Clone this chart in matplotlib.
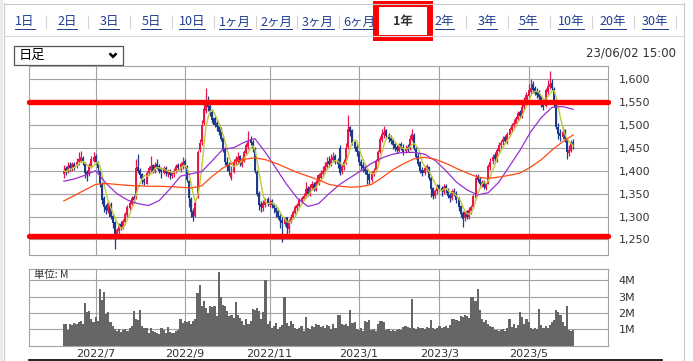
import matplotlib.pyplot as plt
import numpy as np
import pandas as pd
from matplotlib.patches import Rectangle

# タブ
tabs = ['1日', '2日', '3日', '5日', '10日', '1ヶ月', '2ヶ月', '3ヶ月', '6ヶ月',
        '1年', '2年', '3年', '5年', '10年', '20年', '30年']
active_tab = '1年'
period_label = '日足'
stamp = '23/06/02 15:00'
unit_label = '単位: M'

# 営業日 (東証の休日)
start_day, end_day = '2022-06-10', '2023-06-02'
jp_holidays = ['2022-07-18', '2022-08-11', '2022-09-19', '2022-09-23', '2022-10-10',
               '2022-11-03', '2022-11-23', '2023-01-02', '2023-01-03', '2023-01-09',
               '2023-02-23', '2023-03-21', '2023-05-03', '2023-05-04', '2023-05-05']

# 四本値 (円)
opens = [1392, 1405, 1398, 1412, 1404, 1415, 1410, 1418, 1422, 1428,
         1415, 1398, 1392, 1410, 1422, 1432, 1418, 1400, 1372, 1340,
         1322, 1312, 1328, 1302, 1288, 1262, 1268, 1284, 1276, 1288,
         1304, 1318, 1328, 1342, 1340, 1408, 1402, 1392, 1380, 1372,
         1395, 1402, 1412, 1398, 1414, 1410, 1404, 1396, 1406, 1392,
         1400, 1388, 1392, 1398, 1412, 1402, 1408, 1422, 1410, 1378,
         1338, 1312, 1302, 1342, 1445, 1462, 1505, 1530, 1550, 1542,
         1528, 1515, 1505, 1498, 1490, 1472, 1448, 1418, 1412, 1385,
         1398, 1418, 1422, 1432, 1412, 1422, 1438, 1452, 1470, 1462,
         1448, 1398, 1352, 1328, 1318, 1326, 1338, 1326, 1334, 1326,
         1318, 1312, 1302, 1292, 1284, 1298, 1272, 1288, 1298, 1308,
         1318, 1324, 1334, 1338, 1344, 1362, 1348, 1362, 1372, 1358,
         1372, 1385, 1392, 1398, 1408, 1422, 1414, 1424, 1432, 1422,
         1450, 1398, 1408, 1420, 1452, 1495, 1488, 1462, 1452, 1442,
         1418, 1412, 1408, 1402, 1392, 1380, 1392, 1402, 1422, 1440,
         1468, 1478, 1488, 1478, 1472, 1468, 1458, 1452, 1444, 1458,
         1452, 1442, 1452, 1448, 1468, 1478, 1448, 1432, 1418, 1402,
         1396, 1402, 1408, 1384, 1362, 1345, 1356, 1368, 1362, 1354,
         1366, 1358, 1348, 1340, 1356, 1352, 1338, 1322, 1308, 1296,
         1312, 1298, 1312, 1320, 1340, 1388, 1382, 1368, 1376, 1362,
         1372, 1408, 1422, 1434, 1424, 1444, 1456, 1462, 1474, 1462,
         1478, 1488, 1498, 1502, 1512, 1528, 1518, 1538, 1552, 1562,
         1572, 1590, 1580, 1574, 1570, 1562, 1550, 1542, 1572, 1582,
         1592, 1578, 1545, 1495, 1482, 1474, 1488, 1468, 1438, 1444, 1462]
highs = [1412, 1410, 1418, 1418, 1420, 1420, 1428, 1440, 1442, 1432,
         1418, 1402, 1416, 1432, 1440, 1436, 1422, 1402, 1375, 1345,
         1328, 1336, 1332, 1305, 1290, 1275, 1286, 1290, 1295, 1310,
         1325, 1335, 1345, 1348, 1425, 1436, 1405, 1396, 1384, 1400,
         1410, 1433, 1415, 1418, 1425, 1414, 1408, 1410, 1410, 1404,
         1404, 1398, 1405, 1415, 1416, 1420, 1430, 1426, 1412, 1380,
         1342, 1318, 1336, 1445, 1470, 1510, 1548, 1581, 1562, 1548,
         1535, 1520, 1510, 1502, 1495, 1478, 1452, 1430, 1418, 1410,
         1425, 1432, 1440, 1435, 1430, 1445, 1460, 1486, 1476, 1466,
         1452, 1402, 1356, 1334, 1336, 1340, 1342, 1338, 1338, 1330,
         1325, 1316, 1306, 1298, 1300, 1300, 1294, 1305, 1315, 1325,
         1330, 1340, 1345, 1352, 1375, 1366, 1370, 1378, 1375, 1380,
         1395, 1402, 1410, 1418, 1430, 1432, 1436, 1440, 1436, 1428,
         1455, 1415, 1425, 1460, 1521, 1498, 1490, 1465, 1458, 1445,
         1425, 1418, 1412, 1405, 1395, 1400, 1405, 1425, 1445, 1475,
         1490, 1498, 1492, 1482, 1478, 1472, 1462, 1456, 1460, 1462,
         1458, 1455, 1458, 1478, 1492, 1482, 1452, 1438, 1422, 1408,
         1410, 1415, 1410, 1388, 1365, 1360, 1372, 1372, 1366, 1370,
         1370, 1362, 1352, 1360, 1362, 1356, 1342, 1326, 1312, 1315,
         1315, 1320, 1325, 1350, 1392, 1392, 1386, 1380, 1380, 1375,
         1415, 1428, 1436, 1440, 1450, 1462, 1468, 1476, 1478, 1485,
         1495, 1505, 1512, 1520, 1530, 1532, 1545, 1560, 1572, 1590,
         1600, 1595, 1585, 1580, 1575, 1565, 1555, 1580, 1598, 1617,
         1600, 1582, 1550, 1505, 1492, 1496, 1492, 1472, 1455, 1468, 1470]
lows = [1385, 1390, 1394, 1400, 1400, 1402, 1406, 1412, 1418, 1412,
        1385, 1378, 1388, 1405, 1418, 1415, 1398, 1365, 1328, 1310,
        1305, 1308, 1295, 1275, 1230, 1255, 1262, 1270, 1272, 1284,
        1300, 1315, 1325, 1330, 1338, 1395, 1385, 1372, 1368, 1370,
        1390, 1398, 1395, 1394, 1404, 1396, 1385, 1392, 1388, 1386,
        1382, 1384, 1386, 1395, 1400, 1398, 1404, 1405, 1375, 1320,
        1298, 1291, 1298, 1340, 1440, 1455, 1500, 1525, 1530, 1520,
        1505, 1495, 1486, 1478, 1465, 1440, 1412, 1400, 1390, 1380,
        1395, 1412, 1415, 1410, 1408, 1418, 1435, 1448, 1455, 1440,
        1395, 1345, 1315, 1310, 1312, 1320, 1322, 1320, 1318, 1308,
        1300, 1295, 1275, 1244, 1280, 1255, 1265, 1285, 1295, 1305,
        1312, 1320, 1330, 1335, 1340, 1345, 1345, 1358, 1355, 1355,
        1368, 1380, 1386, 1394, 1404, 1408, 1410, 1420, 1415, 1405,
        1390, 1392, 1402, 1415, 1448, 1475, 1455, 1442, 1432, 1412,
        1402, 1398, 1392, 1372, 1370, 1375, 1388, 1398, 1418, 1438,
        1462, 1472, 1470, 1462, 1458, 1448, 1444, 1438, 1440, 1445,
        1435, 1438, 1440, 1445, 1465, 1445, 1425, 1410, 1395, 1388,
        1390, 1398, 1380, 1342, 1338, 1340, 1350, 1355, 1345, 1350,
        1352, 1340, 1332, 1335, 1345, 1330, 1312, 1298, 1277, 1290,
        1295, 1294, 1305, 1318, 1338, 1375, 1362, 1365, 1360, 1358,
        1370, 1402, 1415, 1418, 1420, 1440, 1450, 1455, 1460, 1458,
        1475, 1484, 1494, 1498, 1508, 1515, 1515, 1535, 1548, 1558,
        1568, 1570, 1565, 1558, 1555, 1538, 1532, 1540, 1568, 1578,
        1575, 1540, 1490, 1470, 1465, 1470, 1462, 1425, 1432, 1440, 1448]
closes = [1400, 1395, 1410, 1405, 1415, 1408, 1420, 1425, 1430, 1418,
          1395, 1390, 1412, 1425, 1430, 1420, 1405, 1370, 1335, 1320,
          1315, 1330, 1300, 1285, 1262, 1270, 1280, 1275, 1290, 1305,
          1320, 1330, 1340, 1335, 1405, 1400, 1390, 1380, 1375, 1395,
          1405, 1410, 1400, 1412, 1408, 1400, 1398, 1405, 1395, 1400,
          1390, 1395, 1400, 1410, 1405, 1415, 1420, 1410, 1380, 1340,
          1310, 1300, 1330, 1440, 1460, 1500, 1535, 1545, 1540, 1530,
          1510, 1500, 1495, 1485, 1470, 1445, 1420, 1410, 1400, 1395,
          1420, 1425, 1430, 1415, 1425, 1440, 1455, 1465, 1460, 1450,
          1400, 1350, 1325, 1320, 1330, 1335, 1328, 1332, 1325, 1318,
          1310, 1300, 1290, 1285, 1295, 1275, 1290, 1300, 1310, 1320,
          1325, 1335, 1340, 1345, 1360, 1350, 1365, 1370, 1360, 1375,
          1390, 1395, 1400, 1410, 1420, 1415, 1425, 1430, 1420, 1415,
          1395, 1410, 1420, 1450, 1490, 1485, 1460, 1450, 1440, 1420,
          1410, 1405, 1400, 1390, 1380, 1395, 1400, 1420, 1440, 1470,
          1480, 1485, 1475, 1470, 1465, 1455, 1450, 1445, 1455, 1450,
          1440, 1450, 1445, 1470, 1480, 1450, 1430, 1415, 1400, 1395,
          1405, 1410, 1385, 1360, 1345, 1355, 1365, 1360, 1355, 1365,
          1360, 1345, 1340, 1355, 1350, 1335, 1320, 1305, 1295, 1310,
          1300, 1315, 1320, 1345, 1385, 1380, 1370, 1375, 1365, 1370,
          1410, 1420, 1430, 1425, 1445, 1455, 1460, 1470, 1465, 1480,
          1490, 1500, 1505, 1515, 1525, 1520, 1540, 1555, 1565, 1575,
          1580, 1575, 1570, 1565, 1560, 1545, 1540, 1575, 1585, 1590,
          1580, 1545, 1495, 1480, 1475, 1485, 1470, 1440, 1445, 1460, 1455]

# 出来高 (百万株)
volume_m = [1.3, 1.35, 0.95, 1.3, 1.25, 1.4, 1.3, 1.45, 1.5, 1.3,
            2.6, 2.05, 2.1, 1.65, 1.45, 1.75, 1.5, 3.45, 2.8, 3.25,
            1.95, 2.05, 1.45, 1.2, 1.0, 0.9, 1.0, 0.85, 0.95, 1.0,
            0.9, 1.05, 1.2, 2.1, 1.6, 1.55, 2.15, 1.2, 1.05, 1.1,
            0.8, 1.05, 0.9, 0.85, 0.8, 0.7, 1.1, 0.95, 0.8, 1.15,
            0.85, 0.75, 0.8, 0.9, 0.95, 1.6, 1.4, 1.5, 1.45, 1.5,
            1.35, 1.5, 1.6, 3.2, 3.7, 2.4, 2.7, 2.3, 2.0, 2.4,
            2.35, 2.4, 1.8, 4.5, 3.0, 2.5, 2.4, 2.1, 1.8, 1.85,
            1.7, 2.65, 1.9, 1.7, 1.5, 1.25, 1.6, 1.3, 1.5, 2.25,
            2.2, 2.3, 2.1, 1.6, 2.05, 4.0, 1.3, 1.5, 1.1, 1.2,
            1.4, 1.0, 1.15, 1.25, 3.0, 1.4, 1.2, 1.5, 1.3, 1.05,
            1.0, 1.05, 1.2, 0.9, 1.75, 1.1, 1.0, 1.2, 1.15, 1.3,
            1.25, 1.15, 1.2, 1.1, 1.25, 1.2, 1.0, 1.3, 1.1, 1.9,
            1.9, 1.35, 1.25, 1.3, 1.2, 2.15, 1.4, 1.45, 1.0, 0.95,
            1.05, 0.9, 1.5, 1.45, 1.55, 0.95, 1.0, 0.9, 1.35, 1.5,
            1.5, 1.45, 0.95, 1.0, 0.9, 0.95, 0.9, 0.95, 1.0, 0.95,
            1.15, 1.2, 1.15, 1.1, 2.85, 1.1, 1.0, 1.15, 1.05, 1.1,
            1.0, 1.15, 1.05, 1.55, 1.05, 1.0, 1.05, 1.2, 1.1, 1.15,
            1.2, 1.1, 1.25, 1.65, 1.6, 1.55, 1.5, 1.8, 1.75, 1.85,
            1.8, 1.7, 3.0, 2.95, 2.75, 3.45, 2.15, 1.6, 1.45, 1.55,
            1.35, 1.2, 1.15, 0.95, 0.95, 0.9, 0.95, 1.0, 0.9, 1.05,
            1.6, 1.15, 1.3, 1.1, 1.25, 2.05, 1.75, 1.3, 1.6, 1.45,
            1.05, 1.0, 1.05, 1.0, 2.25, 1.25, 1.1, 1.2, 1.1, 1.25,
            1.45, 1.55, 2.2, 2.05, 1.85, 1.45, 1.2, 2.4, 0.95, 0.9, 0.95]

# 移動平均 (25日・75日) をチャートから5日おきに読み取り
ma_days = list(range(0, 241, 5))
ma25 = [1377, 1382, 1390, 1400, 1372, 1350, 1336, 1328, 1324, 1335,
        1360, 1388, 1393, 1398, 1422, 1447, 1450, 1462, 1470, 1440,
        1405, 1370, 1340, 1322, 1328, 1350, 1370, 1385, 1400, 1416,
        1428, 1436, 1440, 1440, 1436, 1422, 1400, 1375, 1358, 1347,
        1352, 1375, 1410, 1445, 1485, 1516, 1538, 1540, 1534]
ma75 = [1334, 1346, 1358, 1370, 1372, 1370, 1368, 1367, 1366, 1366,
        1365, 1364, 1362, 1367, 1388, 1406, 1418, 1425, 1428, 1424,
        1416, 1406, 1396, 1388, 1380, 1370, 1366, 1364, 1365, 1370,
        1385, 1402, 1415, 1426, 1429, 1425, 1416, 1405, 1395, 1386,
        1383, 1386, 1390, 1395, 1408, 1424, 1445, 1463, 1478]

marked_levels = [1550, 1257]
price_ticks = [1250, 1300, 1350, 1400, 1450, 1500, 1550, 1600]
vol_ticks = [1, 2, 3, 4]

# ---- 準備 ----
W, H = 693, 361
JP = ['Noto Sans CJK JP', 'DejaVu Sans']
UP, DOWN = '#e8174b', '#1c3a8e'
GRID = '#a3a3a3'

dates = pd.bdate_range(start_day, end_day, freq='C', holidays=jp_holidays)
assert len(dates) == len(closes) == len(volume_m)
months = dates.to_period('M')
first_day = np.r_[False, months[1:] != months[:-1]]
tick_idx = [i for i in np.where(first_day)[0] if dates[i].month % 2 == 1]
tick_lab = [f'{dates[i].year}/{dates[i].month}' for i in tick_idx]

x = np.arange(len(closes))
o, h, l, c = (np.array(v, dtype=float) for v in (opens, highs, lows, closes))
col = np.where(c >= o, UP, DOWN)
ma5 = pd.Series(c).rolling(5, min_periods=1).mean()
xlim = (-16.4, 256.4)

fig = plt.figure(figsize=(W / 100, H / 100), dpi=100)

# 画面の枠・タブ
ui = fig.add_axes([0, 0, 1, 1], zorder=0)
ui.set_xlim(0, W)
ui.set_ylim(H, 0)
ui.axis('off')
ui.add_patch(Rectangle((0, 0), 3, H, color='#ebebeb', lw=0))
ui.plot([3.5, 3.5], [3, H], color='#c9c9c9', lw=0.8)
ui.plot([3.5, 684], [3.5, 3.5], color='#c9c9c9', lw=0.8)
ui.plot([684, 684], [3, H], color='#c9c9c9', lw=0.8)
ui.plot([4, 684], [35.5, 35.5], color='#d6dbe6', lw=0.8)

tab_x = [25, 67, 109, 151, 192, 235, 276, 318, 359, 403, 444.5, 487, 528, 571, 613, 655]
links = []
for name, tx in zip(tabs, tab_x):
    if name == active_tab:
        ui.text(tx, 22, name, ha='center', va='center', fontsize=9,
                family=JP, fontweight='bold', color='#333333')
    else:
        links.append(ui.text(tx, 22, name, ha='center', va='center',
                             fontsize=9, family=JP, color='#1f3d8f'))
act = tabs.index(active_tab)
for i in range(len(tab_x)):
    if i in (act - 1, act):
        continue
    sx = (tab_x[i] + tab_x[i + 1]) / 2 if i + 1 < len(tab_x) else 676
    ui.plot([sx, sx], [16, 28], color='#d3d3d3', lw=0.8)
ui.add_patch(Rectangle((376.3, 4.2), 54, 34.1, fill=False, ec='#ff0000', lw=4.3))

ui.add_patch(Rectangle((13.5, 45.5), 109, 19, fill=False, ec='#555555', lw=0.9))
ui.text(19, 55.5, period_label, ha='left', va='center', fontsize=9.5,
        family=JP, color='black')
ui.plot([109.5, 113, 116.5], [53.3, 56.8, 53.3], color='black', lw=1.8,
        solid_capstyle='butt', solid_joinstyle='miter')
ui.text(676.5, 53, stamp, ha='right', va='center', fontsize=8.5, color='#333333')
ui.plot([29, 662], [359.5, 359.5], color='black', lw=1.2)

# 株価チャート
ax = fig.add_axes([29 / W, 1 - 255 / H, 579 / W, 189 / H], zorder=2)
ax.vlines(x, l, h, colors=col, lw=0.9, zorder=2)
ax.bar(x, np.maximum(np.abs(c - o), 1.5), bottom=np.minimum(o, c), width=0.95,
       color=col, lw=0, zorder=2)
ax.plot(x, ma5, color='#bfcb3a', lw=1.0, zorder=3)
ax.plot(ma_days, ma25, color='#9a2fd2', lw=0.9, zorder=3)
ax.plot(ma_days, ma75, color='#ff4a12', lw=0.9, zorder=3)
for lv in marked_levels:
    ax.axhline(lv, color='#ff0000', lw=3.9, solid_capstyle='round',
               clip_on=False, zorder=5)
ax.set_xlim(*xlim)
ax.set_ylim(1216, 1628.4)
ax.set_yticks(price_ticks, [f'{v:,}' for v in price_ticks])
ax.set_xticks(tick_idx)
ax.yaxis.tick_right()
ax.tick_params(axis='y', length=0, pad=7.5, labelsize=8, labelcolor='#333333')
ax.tick_params(axis='x', length=0, labelbottom=False)
ax.grid(True, color=GRID, lw=0.8, zorder=0)
ax.set_axisbelow(True)

# 出来高
vx = fig.add_axes([29 / W, 1 - 345.7 / H, 579 / W, 76.7 / H], zorder=2)
vx.bar(x, volume_m, width=1.0, color='#666666', lw=0, zorder=2)
vx.set_xlim(*xlim)
vx.set_ylim(0, 4.68)
vx.set_yticks(vol_ticks, [f'{v}M' for v in vol_ticks])
vx.set_xticks(tick_idx, tick_lab)
vx.yaxis.tick_right()
vx.tick_params(axis='y', length=0, pad=7.5, labelsize=8, labelcolor='#333333')
vx.tick_params(axis='x', length=0, pad=2.5, labelsize=8, labelcolor='#333333')
vx.grid(True, color=GRID, lw=0.8, zorder=0)
vx.set_axisbelow(True)
vx.text(5 / 579, 0.92, unit_label, transform=vx.transAxes, ha='left',
        va='center', fontsize=7.5, family=JP, color='#333333')

for a in (ax, vx):
    for s in a.spines.values():
        s.set_color(GRID)
        s.set_linewidth(0.8)

# リンクの下線
fig.canvas.draw()
inv = ui.transData.inverted()
for t in links:
    bb = t.get_window_extent()
    x0, x1 = inv.transform([[bb.x0, 0], [bb.x1, 0]])[:, 0]
    ui.plot([x0, x1], [28.8, 28.8], color='#1f3d8f', lw=0.7)

fig.savefig('out.png', dpi=100)
